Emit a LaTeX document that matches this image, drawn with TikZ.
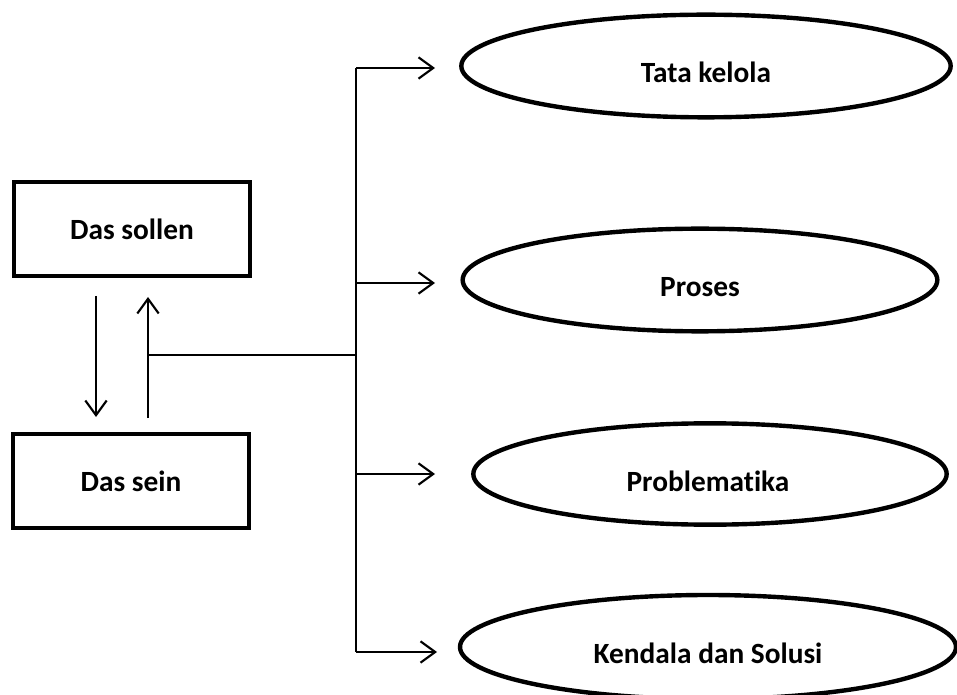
\documentclass[tikz,border=0pt]{standalone}
\usepackage{fontspec}
\setmainfont{Carlito}[Ligatures=NoCommon]
\usetikzlibrary{arrows.meta,shapes.geometric}
\begin{document}
\begin{tikzpicture}[x=0.75pt,y=-0.75pt,
  lbl/.style={font=\fontsize{22}{26}\selectfont\bfseries},
  boxnode/.style={draw,line width=3.2pt,minimum width=177pt,minimum height=70.5pt,inner sep=0pt,lbl},
  ovalnode/.style={draw,ellipse,line width=3.3pt,inner sep=0pt},
  conn/.style={line width=1.6pt},
  arr/.style={conn,-{Straight Barb[length=11pt,width=16pt,line width=1.6pt]}}]
\useasboundingbox (0,0) rectangle (957,695);
% boxes
\node[boxnode] (sollen) at (132,229) {Das sollen};
\node[boxnode] (sein) at (131,481) {Das sein};
% ovals
\node[ovalnode,minimum width=367pt,minimum height=77pt] (tata) at (706,66) {};
\node[lbl] (tatat) at (706,72) {Tata kelola};
\node[ovalnode,minimum width=356pt,minimum height=77pt] (proses) at (700,280) {};
\node[lbl] (prosest) at (700,287) {Proses};
\node[ovalnode,minimum width=355pt,minimum height=76pt] (prob) at (710,474) {};
\node[lbl] (probt) at (708,481) {Problematika};
\node[ovalnode,minimum width=372pt,minimum height=78pt] (kend) at (708,647) {};
\node[lbl] (kendt) at (708,653) {Kendala dan Solusi};
% coordinates
\coordinate (d1) at (96,296);
\coordinate (d2) at (96,417);
\coordinate (u1) at (148,418);
\coordinate (u2) at (148,297);
\coordinate (h1) at (148,355);
\coordinate (v0) at (356,355);
\coordinate (vt) at (356,68);
\coordinate (vb) at (356,652);
\coordinate (b2) at (356,283);
\coordinate (b3) at (356,474);
\coordinate (t1) at (435,68);
\coordinate (t2) at (435,283);
\coordinate (t3) at (435,474);
\coordinate (t4) at (437,652);
% connectors
\draw[arr] (d1) -- (d2);
\draw[arr] (u1) -- (u2);
\draw[conn] (h1) -- (v0);
\draw[conn] (vt) -- (vb);
\draw[arr] (vt) -- (t1);
\draw[arr] (b2) -- (t2);
\draw[arr] (b3) -- (t3);
\draw[arr] (vb) -- (t4);
\end{tikzpicture}
\end{document}
